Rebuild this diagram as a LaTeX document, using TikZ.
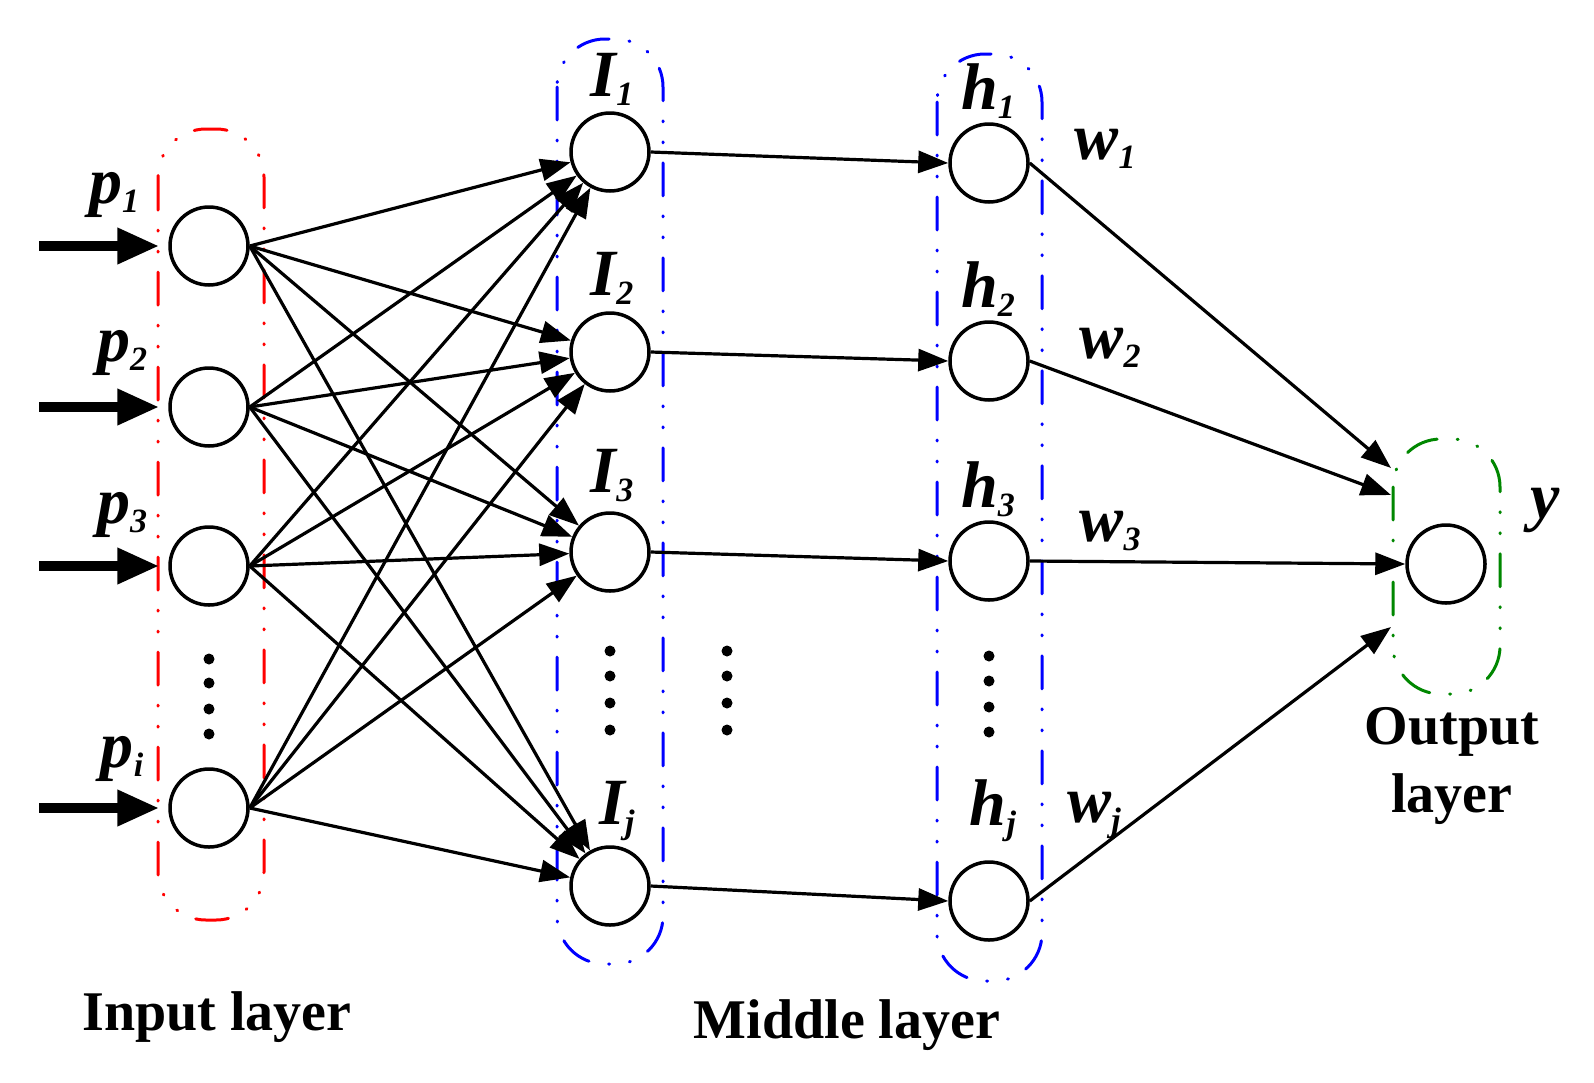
\documentclass[tikz,border=0pt]{standalone}
\usepackage{fontspec}
\setmainfont{Liberation Serif}
\usetikzlibrary{arrows.meta}
\definecolor{ogreen}{RGB}{0,135,0}
\newcommand{\lbl}[2]{\fontsize{66}{66}\selectfont\bfseries\itshape #1\raisebox{-9pt}{\fontsize{34}{34}\selectfont #2}}
\tikzset{
  neuron/.style={circle, draw, line width=3.5pt, minimum size=78pt, inner sep=0pt, fill=white},
  conn/.style={line width=3.2pt, -{Triangle[length=30pt,width=22pt]}},
  inarr/.style={line width=10pt, -{Triangle[length=42pt,width=34pt]}},
  grp/.style={line width=3pt, dash pattern=on 33pt off 20pt on 1pt off 20pt on 1pt off 20pt, rounded corners=48pt, line cap=round},
  dotn/.style={circle, fill, inner sep=0pt, minimum size=11pt},
  lab/.style={inner sep=0pt},
  title/.style={inner sep=0pt, font=\fontsize{56}{68}\selectfont\bfseries, align=center}
}
\begin{document}
\begin{tikzpicture}[x=1pt,y=-1pt]
\useasboundingbox (0,0) rectangle (1594,1082);
% group outlines
\draw[grp, red] (158,129) rectangle (264,920);
\draw[grp, blue] (557,39) rectangle (663,964);
\draw[grp, blue] (937,54) rectangle (1042,981);
\draw[grp, ogreen] (1393,439) rectangle (1500,694);
% neurons
\node[neuron] (p1) at (209,246) {};
\node[neuron] (p2) at (209,407) {};
\node[neuron] (p3) at (209,566) {};
\node[neuron] (pi) at (209,808) {};
\node[neuron] (I1) at (610,152) {};
\node[neuron] (I2) at (610,352) {};
\node[neuron] (I3) at (610,552) {};
\node[neuron] (Ij) at (610,886) {};
\node[neuron] (h1) at (989,163) {};
\node[neuron] (h2) at (989,361) {};
\node[neuron] (h3) at (989,561) {};
\node[neuron] (hj) at (989,901) {};
\node[neuron] (o) at (1446,564) {};
% input arrows
\coordinate (s1) at (39,246);
\coordinate (s2) at (39,407);
\coordinate (s3) at (39,566);
\coordinate (si) at (39,808);
\foreach \a/\b in {s1/p1,s2/p2,s3/p3,si/pi}
  \draw[inarr, shorten >=9pt] (\a) -- (\b.west);
% input to middle
\foreach \a in {p1,p2,p3,pi}
  \foreach \b in {I1,I2,I3,Ij}
    \draw[conn] (\a.east) -- (\b);
% middle to hidden
\foreach \a/\b in {I1/h1,I2/h2,I3/h3,Ij/hj}
  \draw[conn] (\a.east) -- (\b.west);
% hidden to output
\coordinate (c1) at (1391,468);
\coordinate (c2) at (1391,495);
\coordinate (c4) at (1391,627);
\draw[conn] (h1.east) -- (c1);
\draw[conn] (h2.east) -- (c2);
\draw[conn] (h3.east) -- (o.west);
\draw[conn] (hj.east) -- (c4);
% dots
\foreach \y [count=\k] in {659,683,709,734} \node[dotn] (dp\k) at (209,\y) {};
\foreach \y [count=\k] in {651,676,703,730} \node[dotn] (dI\k) at (610,\y) {};
\foreach \y [count=\k] in {651,676,703,730} \node[dotn] (dm\k) at (727,\y) {};
\foreach \y [count=\k] in {656,681,707,732} \node[dotn] (dh\k) at (989,\y) {};
% labels
\node[lab] (lp1) at (114,195) {\lbl{p}{1}};
\node[lab] (lp2) at (122,353) {\lbl{p}{2}};
\node[lab] (lp3) at (122,515) {\lbl{p}{3}};
\node[lab] (lpi) at (122,759) {\lbl{p}{i}};
\node[lab] (lI1) at (612,79) {\lbl{I}{1}};
\node[lab] (lI2) at (612,278) {\lbl{I}{2}};
\node[lab] (lI3) at (612,476) {\lbl{I}{3}};
\node[lab] (lIj) at (617,811) {\lbl{I}{j}};
\node[lab] (lh1) at (988,91) {\lbl{h}{1}};
\node[lab] (lh2) at (988,289) {\lbl{h}{2}};
\node[lab] (lh3) at (988,489) {\lbl{h}{3}};
\node[lab] (lhj) at (993,811) {\lbl{h}{j}};
\node[lab] (lw1) at (1105,149) {\lbl{w}{1}};
\node[lab] (lw2) at (1110,348) {\lbl{w}{2}};
\node[lab] (lw3) at (1110,531) {\lbl{w}{3}};
\node[lab] (lwj) at (1094,815) {\lbl{w}{j}};
\node[lab, font=\fontsize{66}{66}\selectfont\bfseries\itshape] (ly) at (1545,510) {y};
\node[title] (tin) at (217,1017) {Input layer};
\node[title] (tmid) at (847,1025) {Middle layer};
\node[title] (tout) at (1452,766) {Output\\layer};
\end{tikzpicture}
\end{document}
